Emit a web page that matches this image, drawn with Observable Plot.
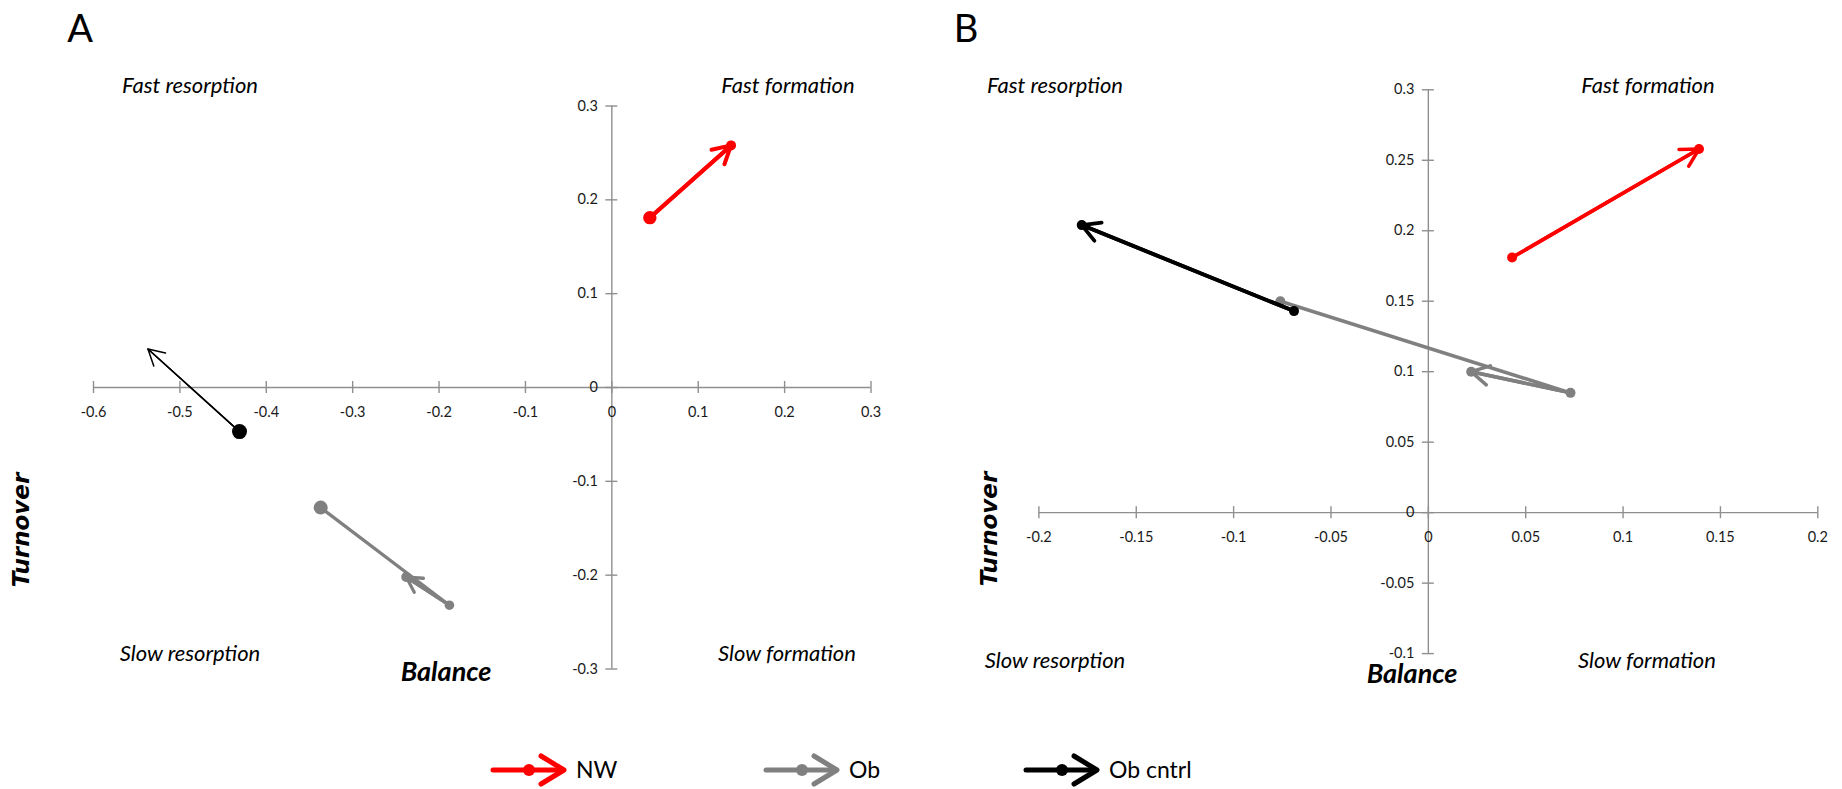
<!DOCTYPE html>
<html>
<head>
<meta charset="utf-8">
<script src="https://cdn.jsdelivr.net/npm/d3@7"></script>
<script src="https://cdn.jsdelivr.net/npm/@observablehq/plot@0.6"></script>
<style>
  body { margin: 0; background: #fff; }
  #wrap { position: relative; width: 1842px; height: 789px; overflow: hidden; font-family: Lato, "Open Sans", sans-serif; color: #000; }
  .abs { position: absolute; white-space: nowrap; line-height: 1; transform: translate(-50%, -50%); }
  .panel { font-size: 38px; font-weight: 400; }
  .quad { font-size: 22px; font-style: italic; }
  .xt { font-size: 27px; font-style: italic; font-weight: 700; }
  .yt { font-family: "DejaVu Sans", sans-serif; font-size: 23px; font-style: italic; font-weight: 700; transform: translate(-50%, -50%) rotate(-90deg); }
  #plotA, #plotB, #legend { position: absolute; top: 0; }
  #plotA { left: 0; }
  #plotB { left: 920px; }
  #legend { top: 740px; left: 0; }
</style>
</head>
<body>
<div id="wrap">
  <div id="plotA"></div>
  <div id="plotB"></div>
  <div id="legend"></div>
</div>
<script>
// ---------------- data ----------------
const seriesNames = ["NW", "Ob", "Ob cntrl"];
const seriesColors = ["#ff0000", "#808080", "#000000"];

// Panel A (Balance, Turnover)
const aNW_balance = [0.044, 0.138];
const aNW_turnover = [0.181, 0.258];
const aOb_balance = [-0.337, -0.188, -0.238];
const aOb_turnover = [-0.128, -0.232, -0.202];
const aCntrl_balance = [-0.431, -0.537];
const aCntrl_turnover = [-0.047, 0.041];

// Panel B (Balance, Turnover)
const bNW_balance = [0.043, 0.139];
const bNW_turnover = [0.181, 0.258];
const bOb_balance = [-0.076, 0.073, 0.022];
const bOb_turnover = [0.150, 0.085, 0.100];
const bCntrl_balance = [-0.069, -0.178];
const bCntrl_turnover = [0.143, 0.204];

// Tick values
const aXTicks = [-0.6, -0.5, -0.4, -0.3, -0.2, -0.1, 0, 0.1, 0.2, 0.3];
const aYTicks = [-0.3, -0.2, -0.1, 0, 0.1, 0.2, 0.3];
const bXTicks = [-0.2, -0.15, -0.1, -0.05, 0, 0.05, 0.1, 0.15, 0.2];
const bYTicks = [-0.1, -0.05, 0, 0.05, 0.1, 0.15, 0.2, 0.25, 0.3];

const quadrantLabels = ["Fast resorption", "Fast formation", "Slow resorption", "Slow formation"];
const xTitle = "Balance";
const yTitle = "Turnover";
const panelLetters = ["A", "B"];

// ---------------- styles ----------------
const axisColor = "#8f8f8f";
const tickColor = "#1a1a1a";
const styleA = {
  NW: {sw: 4, r: [6.7, 5], wing: 20},
  Ob: {sw: 3.3, r: [7, 4.8, 5], wing: 20},
  "Ob cntrl": {sw: 1.5, r: [7.5, 0], wing: 18}
};
const styleB = {
  NW: {sw: 3.5, r: [5, 5], wing: 20},
  Ob: {sw: 3.5, r: [5, 5, 5], wing: 20},
  "Ob cntrl": {sw: 3.8, r: [5, 5], wing: 20}
};

function build(series, style) {
  const pts = [], segs = [];
  series.forEach(([name, bal, turn], si) => {
    const st = style[name];
    bal.forEach((b, i) => pts.push({series: name, order: i, x: b, y: turn[i], r: st.r[i], color: seriesColors[si], sw: st.sw}));
    const n = bal.length;
    segs.push({series: name, x1: bal[n - 2], y1: turn[n - 2], x2: bal[n - 1], y2: turn[n - 1],
      color: seriesColors[si], sw: st.sw, head: st.wing * 1.5 / st.sw});
  });
  return {pts, segs};
}

function fmt(v) { return v === 0 ? "0" : String(+v.toFixed(2)); }

function panel({xDomain, yDomain, xTicks, yTicks, series, style, width, height, margins}) {
  const {pts, segs} = build(series, style);
  const marks = [
    Plot.ruleY([0], {stroke: axisColor, strokeWidth: 1.4}),
    Plot.ruleX([0], {stroke: axisColor, strokeWidth: 1.4}),
    Plot.ruleX(xTicks, {x: d => d, y1: () => 0, y2: () => 0, insetTop: -6, insetBottom: -6, stroke: axisColor, strokeWidth: 1.4}),
    Plot.ruleY(yTicks, {y: d => d, x1: () => 0, x2: () => 0, insetLeft: -6, insetRight: -6, stroke: axisColor, strokeWidth: 1.4}),
    Plot.text(xTicks, {x: d => d, y: () => 0, dy: 25, text: fmt, fontSize: 14.5, fill: tickColor}),
    Plot.text(yTicks, {x: () => 0, y: d => d, dx: -14, textAnchor: "end", text: fmt, fontSize: 14.5, fill: tickColor})
  ];
  seriesNames.forEach(name => {
    const p = pts.filter(d => d.series === name);
    const s = segs.filter(d => d.series === name);
    marks.push(
      Plot.line(p, {x: "x", y: "y", stroke: d => d.color, strokeWidth: p[0].sw, strokeLinecap: "round"}),
      Plot.arrow(s, {x1: "x1", y1: "y1", x2: "x2", y2: "y2", stroke: d => d.color, strokeWidth: s[0].sw, headLength: s[0].head, headAngle: 58}),
      Plot.dot(p.filter(d => d.r > 0), {x: "x", y: "y", r: "r", fill: d => d.color, stroke: "none"})
    );
  });
  return Plot.plot({
    width, height,
    marginLeft: margins[0], marginRight: margins[1], marginTop: margins[2], marginBottom: margins[3],
    x: {domain: xDomain, axis: null},
    y: {domain: yDomain, axis: null},
    r: {type: "identity"},
    color: {type: "identity"},
    style: {fontFamily: "Lato, 'Open Sans', sans-serif", background: "transparent", overflow: "visible"},
    marks
  });
}

const plotA = panel({
  xDomain: [-0.6, 0.3], yDomain: [-0.3, 0.3], xTicks: aXTicks, yTicks: aYTicks,
  series: [["NW", aNW_balance, aNW_turnover], ["Ob", aOb_balance, aOb_turnover], ["Ob cntrl", aCntrl_balance, aCntrl_turnover]],
  style: styleA, width: 920, height: 720, margins: [93, 49.5, 105.5, 51.5]
});
document.getElementById("plotA").appendChild(plotA);

const plotB = panel({
  xDomain: [-0.2, 0.2], yDomain: [-0.1, 0.3], xTicks: bXTicks, yTicks: bYTicks,
  series: [["NW", bNW_balance, bNW_turnover], ["Ob", bOb_balance, bOb_turnover], ["Ob cntrl", bCntrl_balance, bCntrl_turnover]],
  style: styleB, width: 922, height: 720, margins: [118.4, 24.7, 89.3, 66.9]
});
document.getElementById("plotB").appendChild(plotB);

// ---------------- annotations (real text) ----------------
const wrap = document.getElementById("wrap");
function addText(cls, txt, x, y) {
  const el = document.createElement("div");
  el.className = "abs " + cls;
  el.textContent = txt;
  el.style.left = x + "px";
  el.style.top = y + "px";
  wrap.appendChild(el);
}
addText("panel", panelLetters[0], 80, 27);
addText("panel", panelLetters[1], 966, 27);
// Panel A
addText("quad", quadrantLabels[0], 190, 85);
addText("quad", quadrantLabels[1], 788, 85);
addText("quad", quadrantLabels[2], 190, 653);
addText("quad", quadrantLabels[3], 787, 653);
addText("xt", xTitle, 446, 670);
addText("yt", yTitle, 21, 530);
// Panel B
addText("quad", quadrantLabels[0], 1055, 85);
addText("quad", quadrantLabels[1], 1648, 85);
addText("quad", quadrantLabels[2], 1055, 660);
addText("quad", quadrantLabels[3], 1647, 660);
addText("xt", xTitle, 1412, 672);
addText("yt", yTitle, 989, 529);

// ---------------- legend ----------------
const legendX = [491, 764, 1024];
const lg = d3.select("#legend").append("svg").attr("width", 1842).attr("height", 49);
const cy = 30;
seriesNames.forEach((name, i) => {
  const x0 = legendX[i], c = seriesColors[i];
  const g = lg.append("g");
  g.append("line").attr("x1", x0 + 2).attr("x2", x0 + 70).attr("y1", cy).attr("y2", cy)
    .attr("stroke", c).attr("stroke-width", 5).attr("stroke-linecap", "round");
  g.append("circle").attr("cx", x0 + 38).attr("cy", cy).attr("r", 6).attr("fill", c);
  g.append("polyline").attr("points", `${x0 + 50},${cy - 14} ${x0 + 73},${cy} ${x0 + 50},${cy + 14}`)
    .attr("fill", "none").attr("stroke", c).attr("stroke-width", 5).attr("stroke-linecap", "round").attr("stroke-linejoin", "round");
  g.append("text").attr("x", x0 + 85).attr("y", cy).attr("dy", "0.36em")
    .attr("font-family", "Lato, 'Open Sans', sans-serif").attr("font-size", 23).attr("fill", "#000").text(name);
});
</script>
</body>
</html>
